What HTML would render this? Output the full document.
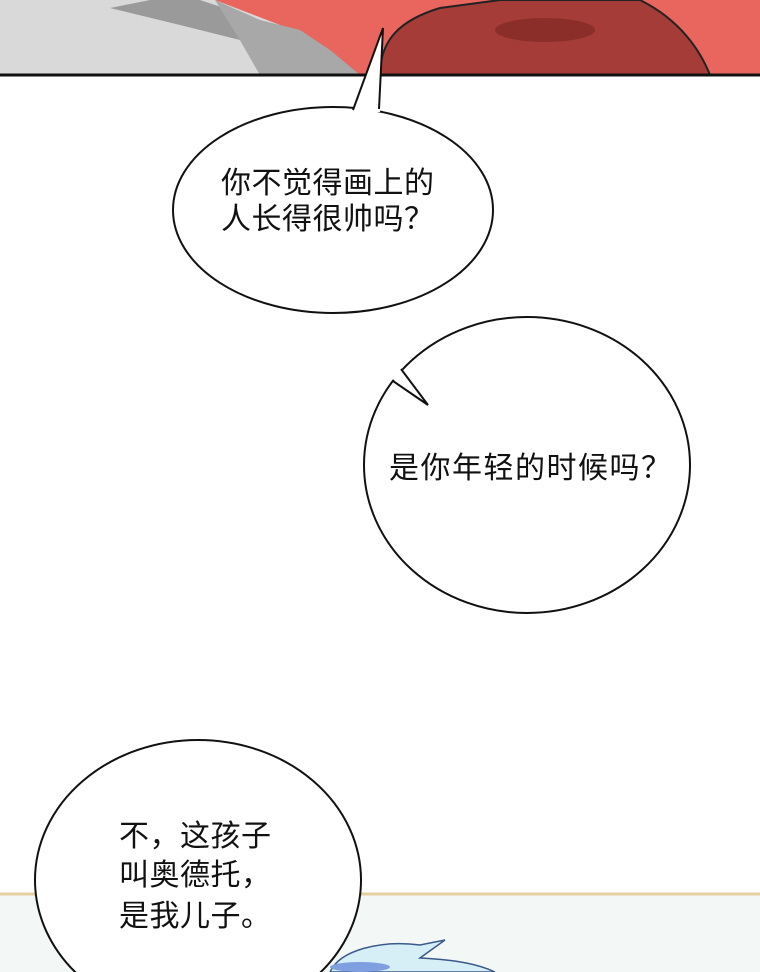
<!DOCTYPE html>
<html><head><meta charset="utf-8"><style>
html,body{margin:0;padding:0;background:#fff;width:760px;height:972px;overflow:hidden}
svg{display:block}
text{font-family:"Liberation Sans","Noto Sans CJK SC",sans-serif;font-size:30px;letter-spacing:0.5px;fill:#111}
</style></head><body>
<svg width="760" height="972" viewBox="0 0 760 972">
<rect x="0" y="0" width="760" height="75" fill="#d9d9d9"/>
<polygon points="110,8 150,0 200,0 260,20 350,50 370,75 260,75 240,40 180,25" fill="#9a9a9a"/>
<polygon points="215,0 760,0 760,75 360,75 330,50 280,25" fill="#e8665d"/>
<polygon points="215,0 260,20 300,30 330,50 360,75 260,75 240,40" fill="#a8a8a8"/>
<path d="M380,75 C380,40 400,20 440,8 L500,0 L640,0 C680,20 700,50 710,75 Z" fill="#a63c37" stroke="#222" stroke-width="2"/>
<ellipse cx="545" cy="30" rx="50" ry="12" fill="#8b2e2a"/>
<line x1="0" y1="75" x2="760" y2="75" stroke="#111" stroke-width="3"/>
<rect x="0" y="893" width="760" height="79" fill="#f3f7f6"/>
<line x1="0" y1="894" x2="760" y2="894" stroke="#e6cfa0" stroke-width="3"/>
<path d="M330,972 C340,950 380,940 420,945 L445,940 L420,958 C460,960 480,965 495,972 Z" fill="#d6eef6" stroke="#3a5a8a" stroke-width="1.5"/>
<ellipse cx="360" cy="967" rx="30" ry="5" fill="#7f9fe0"/>
<ellipse cx="333" cy="210" rx="160" ry="103" fill="#fff" stroke="#111" stroke-width="2"/>
<polygon points="352,112 383,28 380,112" fill="#fff"/>
<polyline points="353,110 383,28 379,109" fill="none" stroke="#111" stroke-width="2"/>
<text x="221" y="193">你不觉得画上的</text>
<text x="221" y="229">人长得很帅吗？</text>
<ellipse cx="527" cy="465" rx="163" ry="148" fill="#fff" stroke="#111" stroke-width="2"/>
<line x1="394" y1="380" x2="402" y2="369" stroke="#fff" stroke-width="5"/>
<polyline points="393,381 428,405 401,369" fill="none" stroke="#111" stroke-width="2"/>
<text x="389" y="478" style="letter-spacing:1.5px">是你年轻的时候吗？</text>
<ellipse cx="198" cy="880" rx="163" ry="140" fill="#fff" stroke="#111" stroke-width="2"/>
<text x="119" y="846">不，这孩子</text>
<text x="119" y="885">叫奥德托，</text>
<text x="119" y="926">是我儿子。</text>
</svg>
</body></html>
